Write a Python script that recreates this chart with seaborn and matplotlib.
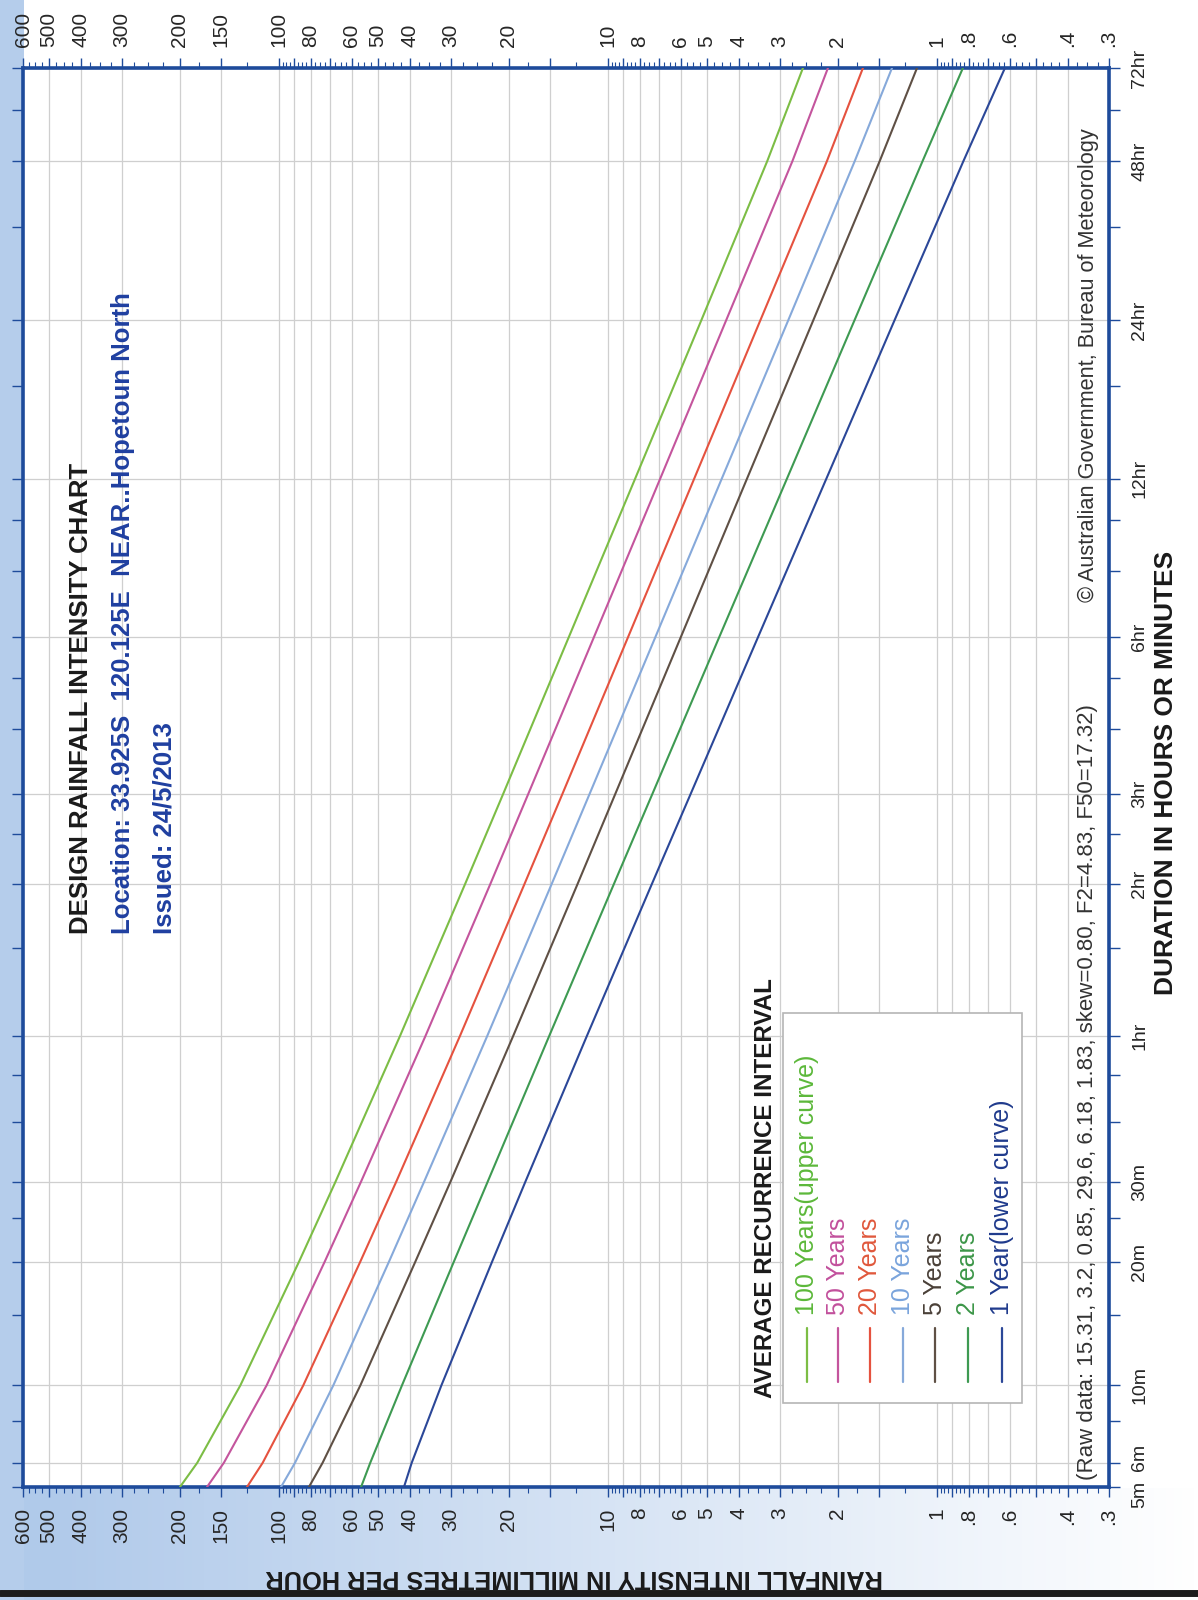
import numpy as np
import pandas as pd
import matplotlib
matplotlib.use("Agg")
import matplotlib.pyplot as plt
import seaborn as sns
from matplotlib.ticker import FixedLocator, FuncFormatter, NullFormatter
from matplotlib.patches import Rectangle
from matplotlib.lines import Line2D
from matplotlib.transforms import ScaledTranslation

# ------------------------------------------------------------------ data
durations_min = [5, 6, 10, 20, 30, 60, 120, 180, 360, 720, 1440, 2880, 4320]
ari_100yr = [200.0, 177.2, 131.1, 86.9, 67.3, 42.9, 27.2, 20.8, 13.14, 8.27, 5.20, 3.28, 2.555]
ari_50yr = [165.5, 147.1, 109.1, 72.6, 56.3, 35.9, 22.8, 17.45, 11.02, 6.94, 4.37, 2.75, 2.145]
ari_20yr = [125.1, 112.1, 84.4, 56.6, 44.0, 28.2, 17.95, 13.74, 8.68, 5.47, 3.44, 2.16, 1.679]
ari_10yr = [98.6, 89.4, 68.4, 46.3, 36.2, 23.3, 14.84, 11.36, 7.17, 4.51, 2.83, 1.778, 1.370]
ari_5yr = [81.1, 73.7, 56.6, 38.5, 30.1, 19.43, 12.38, 9.49, 6.00, 3.78, 2.375, 1.493, 1.150]
ari_2yr = [56.3, 52.8, 42.3, 29.4, 23.2, 15.1, 9.60, 7.32, 4.585, 2.858, 1.780, 1.106, 0.834]
ari_1yr = [41.7, 39.5, 32.1, 22.5, 17.82, 11.60, 7.36, 5.60, 3.495, 2.169, 1.345, 0.831, 0.6215]

series_names = ["100 Years(upper curve)", "50 Years", "20 Years", "10 Years",
                "5 Years", "2 Years", "1 Year(lower curve)"]
series_values = [ari_100yr, ari_50yr, ari_20yr, ari_10yr, ari_5yr, ari_2yr, ari_1yr]
series_colors = ["#7cbd45", "#c4559d", "#e5523f", "#86a9da", "#5f5045", "#3e9a52", "#2b4798"]
legend_text_colors = ["#5cb83a", "#c2509c", "#e0583c", "#7aa4dc", "#4a4038", "#3c9648", "#1f3a8c"]

intensity_labels = ["600", "500", "400", "300", "200", "150", "100", "80", "60", "50", "40", "30",
                    "20", "10", "8", "6", "5", "4", "3", "2", "1", ".8", ".6", ".4", ".3"]
intensity_label_values = [600, 500, 400, 300, 200, 150, 100, 80, 60, 50, 40, 30,
                          20, 10, 8, 6, 5, 4, 3, 2, 1, 0.8, 0.6, 0.4, 0.3]
intensity_grid_subs = [1, 1.5, 2, 3, 4, 5, 6, 7, 8, 9]

duration_ticks = [5, 6, 10, 20, 30, 60, 120, 180, 360, 720, 1440, 2880, 4320]
duration_labels = ["5m", "6m", "10m", "20m", "30m", "1hr", "2hr", "3hr", "6hr",
                   "12hr", "24hr", "48hr", "72hr"]
duration_minor = [8, 15, 25, 40, 50, 90, 150, 240, 300, 480, 600, 1080, 2160, 3600]

title_lines = ["DESIGN RAINFALL INTENSITY CHART",
               "Location: 33.925S  120.125E  NEAR..Hopetoun North",
               "Issued: 24/5/2013"]
raw_note = "(Raw data: 15.31, 3.2, 0.85, 29.6, 6.18, 1.83, skew=0.80, F2=4.83, F50=17.32)"
copyright_note = "\u00a9 Australian Government, Bureau of Meteorology"

# ------------------------------------------------------------------ style
sns.set_style("white")
plt.rcParams["font.family"] = ["Liberation Sans", "DejaVu Sans"]

W, H = 1198, 1600
fig = plt.figure(figsize=(W / 100, H / 100), dpi=100)
fig.patch.set_facecolor("white")


def fx(px):
    return px / W


def fy(py):
    return 1 - py / H


# background: pale blue scan border (left strip + bottom band)
bg = fig.add_axes([0, 0, 1, 1], zorder=-10)
gx = np.linspace(0, 1, 300)
gy = np.linspace(0, 1, 400)
GX, GY = np.meshgrid(gx, gy)
blue = np.array([0.66, 0.77, 0.91])
white = np.array([1.0, 1.0, 1.0])
alpha = np.zeros_like(GX)
bottom_band = GY > 1488 / H
alpha[bottom_band] = np.clip(1.05 - GX[bottom_band] * 1.05, 0.0, 1.0) * 0.9
left_band = GX < 22 / W
alpha[left_band] = 0.85
img = white[None, None, :] * (1 - alpha[..., None]) + blue[None, None, :] * alpha[..., None]
bg.imshow(img, extent=[0, 1, 0, 1], aspect="auto", origin="upper")
bg.set_axis_off()

# main axes: intensity horizontal (rotated chart), duration vertical
ax = fig.add_axes([fx(23), fy(1487), fx(1109) - fx(23), fy(68) - fy(1487)])
ax.set_facecolor("white")

rows = []
for name, vals in zip(series_names, series_values):
    for d, v in zip(durations_min, vals):
        rows.append({"ari": name, "duration": d, "intensity": v})
df = pd.DataFrame(rows)

ax.set_xscale("log")


def dur_fwd(t):
    return np.log10(np.clip(t, -3.99, None) + 4.0)


def dur_inv(p):
    return 10 ** p - 4.0


ax.set_yscale("function", functions=(dur_fwd, dur_inv))

sns.lineplot(data=df, x="intensity", y="duration", hue="ari", hue_order=series_names,
             palette=dict(zip(series_names, series_colors)), estimator=None, sort=False,
             legend=False, linewidth=1.5, ax=ax, zorder=3)

ax.set_xlim(600, 0.3)
ax.set_ylim(5, 4320)
ax.set_xlabel("")
ax.set_ylabel("")

# x (intensity) ticks and grid
grid_vals = []
for dec in [0.1, 1, 10, 100]:
    for s in intensity_grid_subs:
        v = s * dec
        if 0.3 <= v <= 600:
            grid_vals.append(round(v, 4))
label_map = {round(v, 4): l for v, l in zip(intensity_label_values, intensity_labels)}
ax.xaxis.set_major_locator(FixedLocator(grid_vals))
ax.xaxis.set_major_formatter(FuncFormatter(lambda v, p: label_map.get(round(v, 4), "")))
minor_vals = []
for dec in [0.1, 1, 10, 100]:
    for s in np.arange(1.25, 10, 0.25):
        v = round(s * dec, 4)
        if 0.3 <= v <= 600 and v not in grid_vals:
            minor_vals.append(v)
ax.xaxis.set_minor_locator(FixedLocator(minor_vals))
ax.xaxis.set_minor_formatter(NullFormatter())

# y (duration) ticks
dur_label_map = dict(zip(duration_ticks, duration_labels))
ax.yaxis.set_major_locator(FixedLocator(duration_ticks))
ax.yaxis.set_major_formatter(FuncFormatter(lambda v, p: dur_label_map.get(int(round(v)), "")))
ax.yaxis.set_minor_locator(FixedLocator(duration_minor))
ax.yaxis.set_minor_formatter(NullFormatter())

frame_color = "#1e4b9b"
ax.tick_params(axis="x", which="major", direction="out", length=7, width=1.0, color=frame_color,
               top=True, bottom=True, labeltop=True, labelbottom=True, labelrotation=90,
               labelsize=15, pad=8)
ax.tick_params(axis="x", which="minor", direction="out", length=4, width=0.8, color=frame_color,
               top=True, bottom=True)
ax.tick_params(axis="y", which="both", direction="out", length=8, width=1.0, color=frame_color,
               left=True, right=True, labelleft=False, labelright=True, labelrotation=90,
               labelsize=14, pad=8)
ymajor = ax.yaxis.get_major_ticks()
for t in ymajor:
    t.label2.set_va("center")
# "5m" and "6m" sit very close: nudge them apart like the reference's "5m6m"
ymajor[0].label2.set_transform(ymajor[0].label2.get_transform()
                               + ScaledTranslation(0, -5 / 72, fig.dpi_scale_trans))
ymajor[1].label2.set_transform(ymajor[1].label2.get_transform()
                               + ScaledTranslation(0, 4 / 72, fig.dpi_scale_trans))
for t in ax.xaxis.get_major_ticks():
    t.label1.set_va("top")
    t.label2.set_va("bottom")

ax.grid(True, which="major", axis="both", color="#cfcfcf", linewidth=0.9)
for sp in ax.spines.values():
    sp.set_color(frame_color)
    sp.set_linewidth(2.6)

# titles (rotated with the chart)
fig.text(fx(81), fy(934), title_lines[0], rotation=90, rotation_mode="anchor",
         ha="left", va="center", fontsize=18.5, fontweight="bold", color="#1a1a1a")
fig.text(fx(123), fy(934), title_lines[1], rotation=90, rotation_mode="anchor",
         ha="left", va="center", fontsize=18.5, fontweight="bold", color="#1f3fa0")
fig.text(fx(164), fy(934), title_lines[2], rotation=90, rotation_mode="anchor",
         ha="left", va="center", fontsize=18.5, fontweight="bold", color="#1f3fa0")

# notes inside plot
fig.text(fx(1088), fy(1480), raw_note, rotation=90, rotation_mode="anchor",
         ha="left", va="center", fontsize=16, color="#333333")
fig.text(fx(1088), fy(602), copyright_note, rotation=90, rotation_mode="anchor",
         ha="left", va="center", fontsize=15.7, color="#333333")

# axis titles
fig.text(fx(1166), fy(995), "DURATION IN HOURS OR MINUTES", rotation=90, rotation_mode="anchor",
         ha="left", va="center", fontsize=18.9, fontweight="bold", color="#1a1a1a")
fig.text(fx(574), fy(1577), "RAINFALL INTENSITY IN MILLIMETRES PER HOUR", rotation=180,
         rotation_mode="anchor", ha="center", va="center", fontsize=18.3, fontweight="bold",
         color="#1a1a1a")

# legend (rotated)
fig.patches.append(Rectangle((fx(783), fy(1403)), fx(1022) - fx(783), fy(1013) - fy(1403),
                             transform=fig.transFigure, facecolor="white", edgecolor="#b5b5b5",
                             linewidth=1.2, zorder=5))
fig.text(fx(766), fy(1398), "AVERAGE RECURRENCE INTERVAL", rotation=90, rotation_mode="anchor",
         ha="left", va="center", fontsize=17.4, fontweight="bold", color="#1a1a1a", zorder=6)
legend_x = [807, 838, 870, 903, 935, 968, 1002]
for xpix, name, lc, tc in zip(legend_x, series_names, series_colors, legend_text_colors):
    fig.add_artist(Line2D([fx(xpix), fx(xpix)], [fy(1382), fy(1328)], transform=fig.transFigure,
                          color=lc, linewidth=1.6, zorder=6))
    fig.text(fx(xpix), fy(1315), name, rotation=90, rotation_mode="anchor", ha="left",
             va="center", fontsize=18, color=tc, zorder=6)

# dark scan edge at the bottom
fig.add_artist(Line2D([0, 1], [fy(1593), fy(1593)], transform=fig.transFigure,
                      color="#1c1c1c", linewidth=5))

fig.savefig("out.png", dpi=100)
